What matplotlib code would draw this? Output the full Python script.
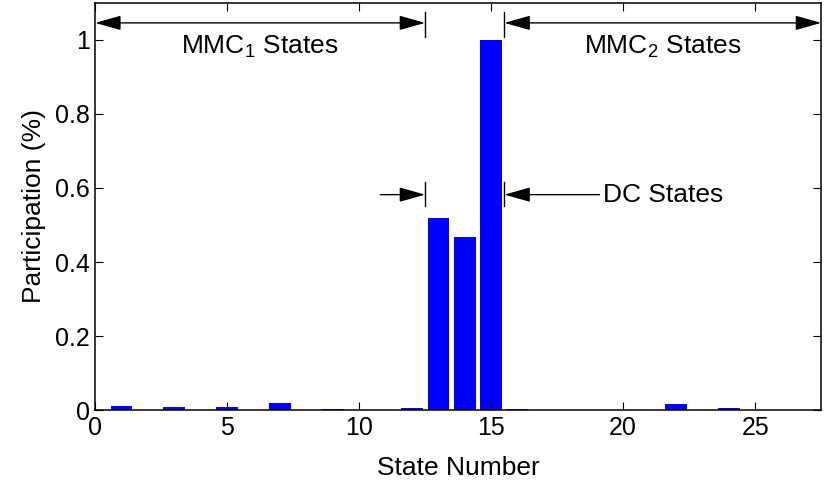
import matplotlib
matplotlib.use('Agg')
import matplotlib.pyplot as plt
import numpy as np

plt.rcParams['font.family'] = ['Liberation Sans', 'DejaVu Sans']
plt.rcParams['mathtext.fontset'] = 'custom'
plt.rcParams['mathtext.rm'] = 'Liberation Sans'

# participation factor of each state (1..27)
states = np.arange(1, 28)
participation = [0.011, 0, 0.008, 0, 0.008, 0, 0.019, 0, 0.002, 0, 0, 0.005,
                 0.52, 0.468, 1.0, 0.002, 0, 0, 0, 0, 0, 0.016, 0, 0.005, 0, 0, 0]
mmc1_last = 12   # states 1-12 belong to MMC1
dc_last = 15     # states 13-15 are DC states

fig = plt.figure(figsize=(8.27, 4.83), dpi=100)
ax = fig.add_axes([0.115, 0.151, 0.878, 0.843])
ax.bar(states, participation, width=0.82, color='#0000ff')

ax.set_xlim(0, 27.5)
ax.set_ylim(0, 1.1)
ax.set_xticks([0, 5, 10, 15, 20, 25])
ax.set_yticks([0, 0.2, 0.4, 0.6, 0.8, 1])
ax.set_yticklabels(['0', '0.2', '0.4', '0.6', '0.8', '1'])
ax.tick_params(direction='in', top=True, right=True, labelsize=18, length=6, pad=4)
ax.set_xlabel('State Number', fontsize=19, labelpad=12)
ax.set_ylabel('Participation (%)', fontsize=19, labelpad=6)
for s in ax.spines.values():
    s.set_linewidth(1.1)

b1 = mmc1_last + 0.5
b2 = dc_last + 0.5
ap = dict(color='black', lw=1, shrinkA=0, shrinkB=0, mutation_scale=10)

# group boundaries
for xb in (b1, b2):
    ax.plot([xb, xb], [1.008, 1.075], color='black', lw=1)
    ax.plot([xb, xb], [0.55, 0.615], color='black', lw=1)

ax.annotate('', xy=(0, 1.046), xytext=(b1, 1.046),
            arrowprops=dict(arrowstyle='<|-|>,head_length=1.6,head_width=0.45', **ap))
ax.annotate('', xy=(b2, 1.046), xytext=(27.5, 1.046),
            arrowprops=dict(arrowstyle='<|-|>,head_length=1.6,head_width=0.45', **ap))
ax.text(b1 / 2, 0.982, 'MMC$_1$ States', ha='center', va='center', fontsize=19)
ax.text((b2 + 27.5) / 2, 0.982, 'MMC$_2$ States', ha='center', va='center', fontsize=19)

ax.annotate('', xy=(b1, 0.582), xytext=(b1 - 1.7, 0.582),
            arrowprops=dict(arrowstyle='-|>,head_length=1.6,head_width=0.45', **ap))
ax.annotate('', xy=(b2, 0.582), xytext=(b2 + 3.6, 0.582),
            arrowprops=dict(arrowstyle='-|>,head_length=1.6,head_width=0.45', **ap))
ax.text(b2 + 3.75, 0.582, 'DC States', ha='left', va='center', fontsize=19)

fig.savefig('out.png', dpi=100)
